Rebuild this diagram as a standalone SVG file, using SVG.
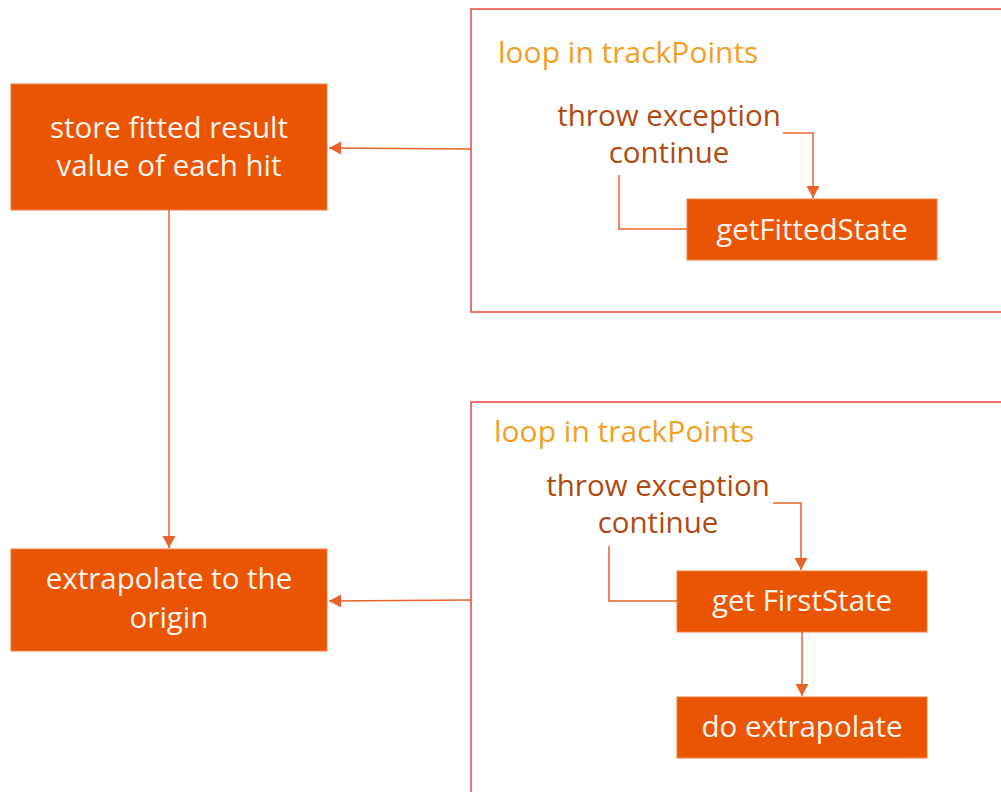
<svg xmlns="http://www.w3.org/2000/svg" width="1001" height="792" viewBox="0 0 1001 792">
<style>
.box{fill:#EA5504;stroke:#F08040;stroke-width:1}
.frame{fill:none;stroke:#E8453C;stroke-width:1.5}
.wt{font-family:"Open Sans","Noto Sans",sans-serif;font-size:29.5px;fill:#FFF4EC;text-anchor:middle}
.bt{font-family:"Open Sans","Noto Sans",sans-serif;font-size:29.5px;fill:#B04A12;text-anchor:middle}
.tt{font-family:"Open Sans","Noto Sans",sans-serif;font-size:30px;fill:#F2A024}
.con{fill:none;stroke:#E8632A;stroke-width:1.5}
</style>
<defs>
<marker id="ah" markerWidth="14" markerHeight="14" refX="12" refY="6.5" orient="auto" markerUnits="userSpaceOnUse">
<path d="M0,0 L12,6.5 L0,13 Z" fill="#E8632A"/>
</marker>
</defs>
<g id="frame1">
<rect class="frame" x="471" y="9" width="545" height="303"/>
<text class="tt" x="498" y="63">loop in trackPoints</text>
</g>
<g id="frame2">
<rect class="frame" x="471" y="402" width="545" height="410"/>
<text class="tt" x="494" y="442">loop in trackPoints</text>
</g>
<g id="label1">
<text class="bt" x="669" y="126">throw exception</text>
<text class="bt" x="669" y="163">continue</text>
</g>
<g id="label2">
<text class="bt" x="658" y="496">throw exception</text>
<text class="bt" x="658" y="533">continue</text>
</g>
<g id="store">
<rect class="box" x="11" y="84" width="316" height="126"/>
<text class="wt" x="169" y="138">store fitted result</text>
<text class="wt" x="169" y="176">value of each hit</text>
</g>
<g id="extrapolate">
<rect class="box" x="11" y="549" width="316" height="102"/>
<text class="wt" x="169" y="589">extrapolate to the</text>
<text class="wt" x="169" y="628">origin</text>
</g>
<g id="getFittedState">
<rect class="box" x="687" y="199" width="250" height="61"/>
<text class="wt" x="812" y="240">getFittedState</text>
</g>
<g id="getFirstState">
<rect class="box" x="677" y="571" width="250" height="61"/>
<text class="wt" x="802" y="611">get FirstState</text>
</g>
<g id="doExtrapolate">
<rect class="box" x="677" y="697" width="250" height="61"/>
<text class="wt" x="802" y="737">do extrapolate</text>
</g>
<g id="connectors">
<path class="con" d="M471,149 L329,148" marker-end="url(#ah)"/>
<path class="con" d="M471,600 L329,601" marker-end="url(#ah)"/>
<path class="con" d="M169,210 L169,548" marker-end="url(#ah)"/>
<path class="con" d="M783,133 L813,133 L813,198" marker-end="url(#ah)"/>
<path class="con" d="M619,175 L619,229 L687,229"/>
<path class="con" d="M773,503 L801,503 L801,570" marker-end="url(#ah)"/>
<path class="con" d="M609,546 L609,601 L677,601"/>
<path class="con" d="M802,632 L802,696" marker-end="url(#ah)"/>
</g>
</svg>
